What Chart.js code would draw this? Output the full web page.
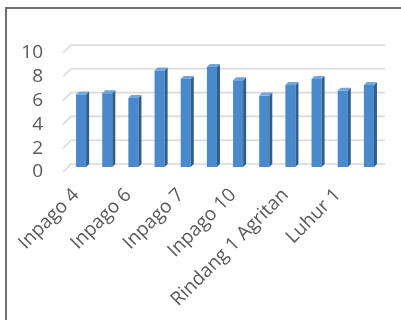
<!DOCTYPE html>
<html>
<head>
<meta charset="utf-8">
<script src="https://cdn.jsdelivr.net/npm/chart.js@4.4.0/dist/chart.umd.min.js"></script>
<style>
  html, body { margin: 0; padding: 0; background: #fff; }
  #wrap { position: relative; width: 401px; height: 320px; overflow: hidden; }
  #frame { position: absolute; left: 5px; top: 7px; width: 600px; height: 600px;
           border-left: 2px solid #6e6e6e; border-top: 2px solid #6e6e6e; box-sizing: border-box; pointer-events: none; }
  canvas { position: absolute; left: 0; top: 0; }
</style>
</head>
<body>
<div id="wrap">
  <canvas id="chart" width="401" height="320"></canvas>
  <div id="frame"></div>
</div>
<script>
// Rice varieties (every second name is shown on the axis)
const varieties = [
  'Inpago 4', 'Inpago 5', 'Inpago 6', 'Inpago 8', 'Inpago 7', 'Inpago 9',
  'Inpago 10', 'Inpago 11', 'Rindang 1 Agritan', 'Rindang 2 Agritan', 'Luhur 1', 'Luhur 2'
];
const values = [6.1, 6.2, 5.8, 8.1, 7.4, 8.4, 7.3, 6.0, 6.9, 7.4, 6.4, 6.9];
const yTicks = [0, 2, 4, 6, 8, 10];

// pseudo-3D offsets
const WALL_DX = 8, WALL_DY = -8;   // back wall relative to the front plane
const BAR_DX = 5, BAR_DY = -5;     // bar row depth
const SIDE = 3;                    // bar thickness in depth

const textColor = '#595959';
const fontFamily = '"Open Sans", "DejaVu Sans", sans-serif';

const depthPlugin = {
  id: 'depth',
  beforeDatasetsDraw(chart) {
    const { ctx, chartArea, scales: { y } } = chart;
    ctx.save();
    ctx.strokeStyle = '#d9d9d9';
    ctx.lineWidth = 1.6;
    yTicks.forEach(v => {
      const py = y.getPixelForValue(v);
      ctx.beginPath();
      ctx.moveTo(chartArea.left, py);
      ctx.lineTo(chartArea.left + WALL_DX, py + WALL_DY);
      ctx.lineTo(chartArea.right + WALL_DX, py + WALL_DY);
      ctx.stroke();
    });
    ctx.restore();
    ctx.save();
    ctx.translate(BAR_DX, BAR_DY);
  },
  afterDatasetsDraw(chart) {
    const { ctx } = chart;
    const meta = chart.getDatasetMeta(0);
    meta.data.forEach(bar => {
      const { x, y, base, width } = bar.getProps(['x', 'y', 'base', 'width'], true);
      const l = x - width / 2, r = x + width / 2;
      // side face
      ctx.fillStyle = '#2e5e8e';
      ctx.beginPath();
      ctx.moveTo(r, base);
      ctx.lineTo(r, y);
      ctx.lineTo(r + SIDE, y - SIDE);
      ctx.lineTo(r + SIDE, base - SIDE);
      ctx.closePath();
      ctx.fill();
      // top face
      ctx.fillStyle = '#6fa6dc';
      ctx.beginPath();
      ctx.moveTo(l, y);
      ctx.lineTo(r, y);
      ctx.lineTo(r + SIDE, y - SIDE);
      ctx.lineTo(l + SIDE, y - SIDE);
      ctx.closePath();
      ctx.fill();
    });
    ctx.restore();
  }
};

new Chart(document.getElementById('chart'), {
  type: 'bar',
  data: {
    labels: varieties,
    datasets: [{
      data: values,
      backgroundColor: '#4a89cb',
      borderWidth: 0,
      barPercentage: 0.385,
      categoryPercentage: 1,
      clip: false
    }]
  },
  options: {
    responsive: false,
    animation: false,
    devicePixelRatio: 1,
    layout: { padding: { left: 0, right: 24, top: 53, bottom: 0 } },
    plugins: { legend: { display: false }, tooltip: { enabled: false } },
    scales: {
      x: {
        grid: { display: false, drawTicks: false },
        border: { display: false },
        afterFit(scale) { scale.height = 148; },
        ticks: {
          autoSkip: false,
          minRotation: 45,
          maxRotation: 45,
          padding: 12,
          color: textColor,
          font: { family: fontFamily, size: 19 },
          callback(value, index) { return index % 2 === 0 ? varieties[index] : ''; }
        }
      },
      y: {
        min: 0,
        max: 10,
        grid: { display: false, drawTicks: false },
        border: { display: false },
        afterFit(scale) { scale.width = 63; },
        afterBuildTicks(scale) { scale.ticks = yTicks.map(v => ({ value: v })); },
        ticks: {
          autoSkip: false,
          padding: 20,
          color: textColor,
          font: { family: fontFamily, size: 19 }
        }
      }
    }
  },
  plugins: [depthPlugin]
});
</script>
</body>
</html>
